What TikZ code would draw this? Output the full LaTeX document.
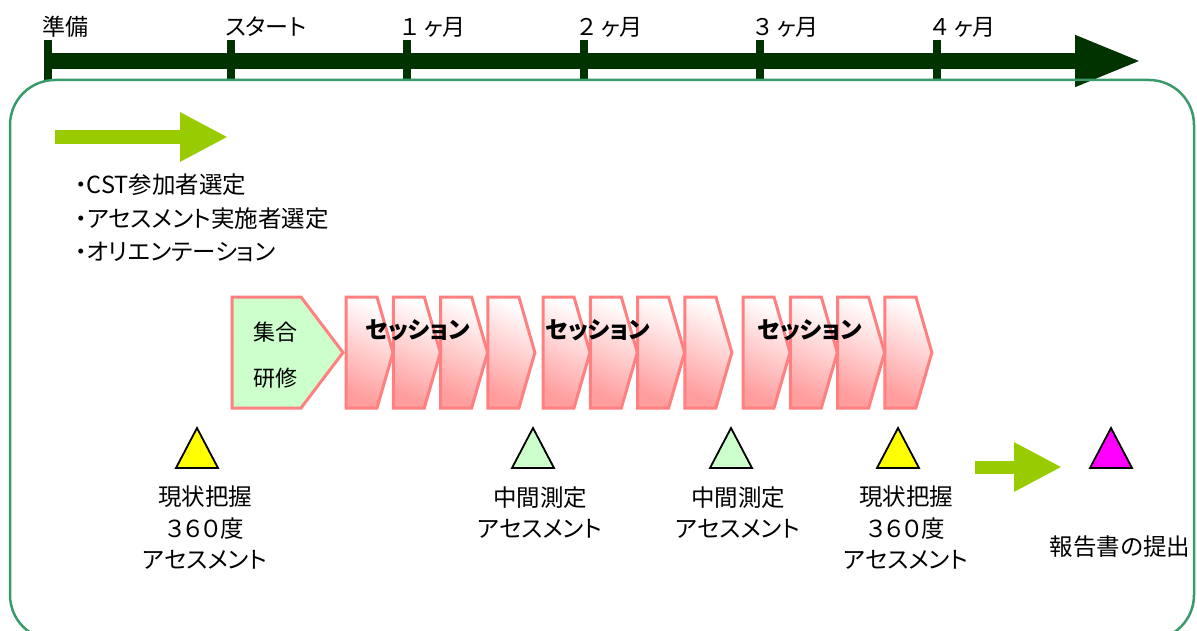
\documentclass[tikz,border=0pt]{standalone}
\usepackage{fontspec}
\setmainfont{Noto Sans CJK JP}[RawFeature=+palt]
\usetikzlibrary{arrows.meta,positioning}

\definecolor{barGreen}{HTML}{003300}
\definecolor{frameGreen}{HTML}{3A9A6A}
\definecolor{limeGreen}{HTML}{99CC00}
\definecolor{pinkLine}{HTML}{FF8080}
\definecolor{pinkFill}{HTML}{FF9C9C}
\definecolor{paleGreen}{HTML}{CCFFCC}
\definecolor{markYellow}{HTML}{FFFF00}
\definecolor{markMagenta}{HTML}{FF00FF}

\begin{document}
\begin{tikzpicture}[x=1pt,y=-1pt]
 \tikzstyle{timebar} = [barGreen,line width=16pt,-{Triangle[length=67pt,width=47pt]}];
 \tikzstyle{tick} = [fill=barGreen,draw=none];
 \tikzstyle{ticktext} = [anchor=base west,inner sep=0pt,font=\fontsize{23}{24}\selectfont];
 \tikzstyle{frame} = [draw=frameGreen,line width=2.5pt,rounded corners=45pt];
 \tikzstyle{limearrow} = [limeGreen,line width=14pt,-{Triangle[length=48pt,width=46pt]}];
 \tikzstyle{bullets} = [anchor=west,align=left,inner sep=0pt,font=\fontsize{23.5}{33.5}\selectfont];
 \tikzstyle{training} = [draw=pinkLine,fill=paleGreen,line width=3pt,line join=miter];
 \tikzstyle{chevron} = [draw=pinkLine,line width=3pt,shading=axis,top color=white,bottom color=pinkFill,shading angle=-25];
 \tikzstyle{sessiontext} = [inner sep=0pt,font=\fontsize{23.5}{24}\selectfont\bfseries];
 \tikzstyle{marker} = [draw=black,line width=1.8pt,line join=miter];
 \tikzstyle{caption} = [align=center,inner sep=0pt,font=\fontsize{23.5}{31.5}\selectfont];

 \useasboundingbox (0,0) rectangle (1197,631);

 % timeline
 \draw[timebar] (44,61) -- (1142,61);
 \foreach \x/\nm/\txt in {48/prep/準備,231/start/スタート,407/m1/１ ヶ月,584/m2/２ ヶ月,760/m3/３ ヶ月,937/m4/４ ヶ月}
 {
  \fill[tick] (\x-4,40) rectangle (\x+4,80);
  \node[ticktext,name=\nm] at (\x-6,36) {\txt};
 }

 % frame
 \draw[frame] (10,80) rectangle (1194,640);

 % preparation
 \coordinate (a1s) at (55,137);
 \coordinate (a1e) at (228,137);
 \draw[limearrow] (a1s) -- (a1e);
 \node[bullets,name=tasks] at (75,218) {・CST参加者選定\\・アセスメント実施者選定\\・オリエンテーション};

 % training and sessions
 \draw[training] (232,297) -- (301,297) -- (343,352.5) -- (301,408) -- (232,408) -- cycle;
 \node[caption,name=kenshu,font=\fontsize{22}{46}\selectfont] at (275,355) {集合\\研修};
 \foreach \x in {346,393.3,440.6,487.9,543,590.3,637.6,684.9,743,790.3,837.6,884.9}
  \path[chevron] (\x,297) -- (\x+31,297) -- (\x+47,352.5) -- (\x+31,408) -- (\x,408) -- cycle;
 \node[sessiontext,name=s1] at (418,330) {セッション};
 \node[sessiontext,name=s2] at (598,330) {セッション};
 \node[sessiontext,name=s3] at (810,330) {セッション};

 % assessments
 \draw[marker,fill=markYellow] (176,468) -- (197,428) -- (218,468) -- cycle;
 \draw[marker,fill=paleGreen] (512,468) -- (533,428) -- (554,468) -- cycle;
 \draw[marker,fill=paleGreen] (710,468) -- (731,428) -- (752,468) -- cycle;
 \draw[marker,fill=markYellow] (877,468) -- (898,428) -- (919,468) -- cycle;
 \draw[marker,fill=markMagenta] (1090,468) -- (1111,428) -- (1132,468) -- cycle;
 \node[caption,name=c1] at (205,528) {現状把握\\３６０度\\アセスメント};
 \node[caption,name=c2] at (540,512.5) {中間測定\\アセスメント};
 \node[caption,name=c3] at (738,512.5) {中間測定\\アセスメント};
 \node[caption,name=c4] at (906,528) {現状把握\\３６０度\\アセスメント};

 % report
 \coordinate (a2s) at (975,467);
 \coordinate (a2e) at (1062,467);
 \draw[limearrow,line width=13pt] (a2s) -- (a2e);
 \node[caption,name=report] at (1120,547) {報告書の提出};
\end{tikzpicture}
\end{document}
